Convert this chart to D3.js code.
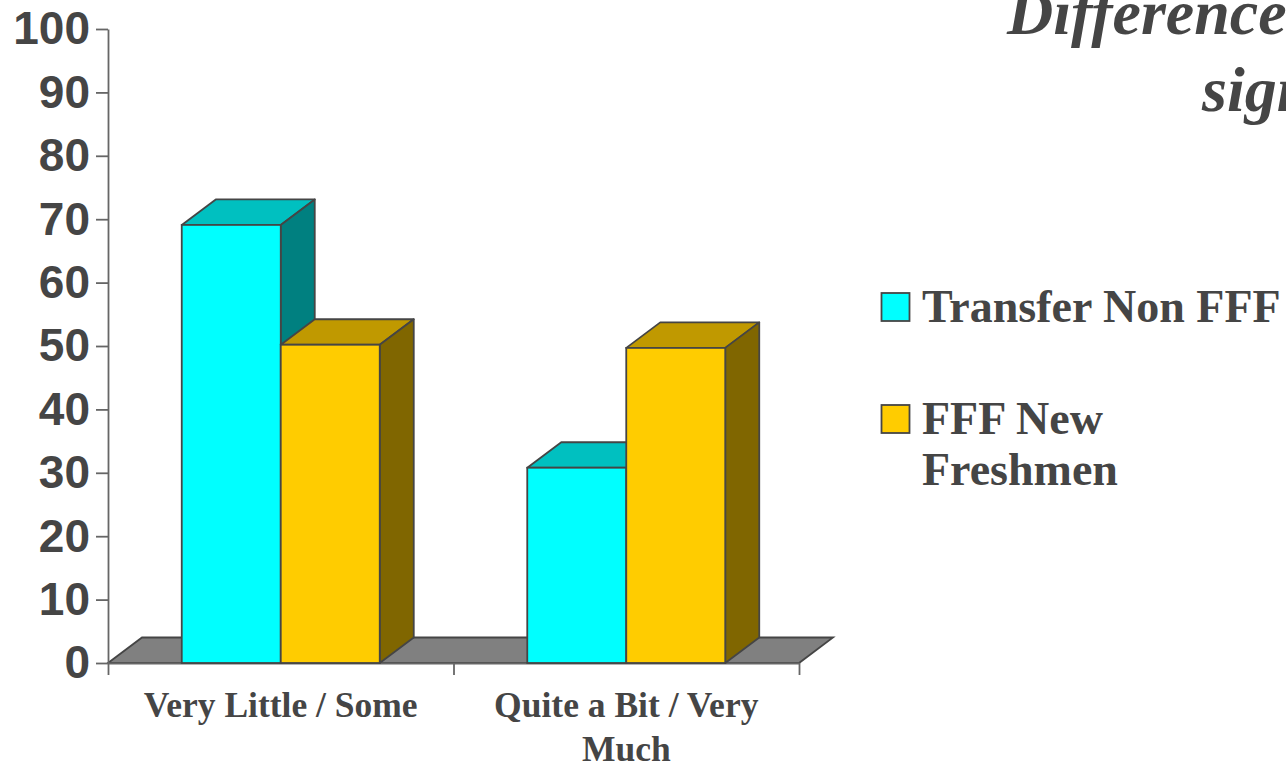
<!DOCTYPE html>
<html><head><meta charset="utf-8">
<script src="https://cdn.jsdelivr.net/npm/d3@7"></script>
<style>html,body{margin:0;padding:0;background:#fff;overflow:hidden}svg{display:block}</style>
</head><body><svg id="c" width="1286" height="763"></svg>
<script>
const categories = ["Very Little / Some", "Quite a Bit / Very Much"];
const seriesNames = ["Transfer Non FFF", "FFF New Freshmen"];
const transferValues = [69.1, 30.8];
const freshmenValues = [50.2, 49.7];
const yTicks = [0,10,20,30,40,50,60,70,80,90,100];
const titleLines = ["Difference", "sign"];
const legendLines = [["Transfer Non FFF"], ["FFF New", "Freshmen"]];
const frontColors = ["#00ffff", "#ffcc00"];
const topColors = ["#00c0c0", "#c09900"];
const sideColors = ["#008080", "#806600"];

const ink = "#454545", line = "#454545", axisInk = "#666666", sw = 1.8;
const plotL = 108, plotR = 799, plotB = 663, plotT = 29, depthX = 34, depthY = 25.5;
const svg = d3.select("#c");
const y = d3.scaleLinear().domain([0,100]).range([plotB, plotT]);
const x0 = d3.scaleBand().domain(categories).range([plotL, plotR]);
const x1 = d3.scaleBand().domain(seriesNames).range([0, x0.bandwidth()]).paddingInner(0).paddingOuter(0.745);
const seriesValues = [transferValues, freshmenValues];

// floor
svg.append("polygon")
  .attr("points", [[plotL,plotB],[plotL+depthX,plotB-depthY],[plotR+depthX,plotB-depthY],[plotR,plotB]].join(" "))
  .attr("fill","#808080").attr("stroke",line).attr("stroke-width",sw);

// axes
const yAxis = svg.append("g").attr("transform",`translate(${plotL},0)`)
  .call(d3.axisLeft(y).tickValues(yTicks).tickSize(12).tickSizeOuter(0).tickPadding(6));
yAxis.selectAll("path,line").attr("stroke",axisInk).attr("stroke-width",sw);
yAxis.selectAll("text").attr("font-family","'Liberation Sans'").attr("font-weight","bold")
  .attr("font-size",46).attr("fill",ink).attr("dy","0.325em");
const xEdges = d3.scaleLinear().domain([0,categories.length]).range([plotL,plotR]);
const xAxis = svg.append("g").attr("transform",`translate(0,${plotB})`)
  .call(d3.axisBottom(xEdges).tickValues(d3.range(categories.length+1)).tickFormat("").tickSize(12).tickSizeOuter(0));
xAxis.selectAll("path,line").attr("stroke",axisInk).attr("stroke-width",sw);

// bars
categories.forEach((c,ci)=>{
  seriesNames.forEach((s,si)=>{
    const v = seriesValues[si][ci];
    const xa = x0(c)+x1(s), xb = xa+x1.bandwidth(), yt = y(v), g = svg.append("g");
    g.append("polygon").attr("points",[[xa,yt],[xa+depthX,yt-depthY],[xb+depthX,yt-depthY],[xb,yt]].join(" "))
      .attr("fill",topColors[si]).attr("stroke",line).attr("stroke-width",sw).attr("stroke-linejoin","round");
    g.append("polygon").attr("points",[[xb,yt],[xb+depthX,yt-depthY],[xb+depthX,plotB-depthY],[xb,plotB]].join(" "))
      .attr("fill",sideColors[si]).attr("stroke",line).attr("stroke-width",sw).attr("stroke-linejoin","round");
    g.append("rect").attr("x",xa).attr("y",yt).attr("width",xb-xa).attr("height",plotB-yt)
      .attr("fill",frontColors[si]).attr("stroke",line).attr("stroke-width",sw);
  });
});

// category labels, wrapped to the band
const serif = "'Liberation Serif'";
categories.forEach(c=>{
  const t = svg.append("text").attr("text-anchor","middle").attr("font-family",serif)
    .attr("font-weight","bold").attr("font-size",35.5).attr("fill",ink);
  const cx = x0(c)+x0.bandwidth()/2;
  let lineNo=0, cur=[], ts=t.append("tspan").attr("x",cx).attr("y",717);
  c.split(" ").forEach(w=>{
    cur.push(w); ts.text(cur.join(" "));
    if(ts.node().getComputedTextLength()>x0.bandwidth()){
      cur.pop(); ts.text(cur.join(" ")); cur=[w]; lineNo++;
      ts=t.append("tspan").attr("x",cx).attr("y",717+lineNo*44).text(w);
    }
  });
});

// legend
const legendY=[292,404], legendBase=[[322],[434,485]];
legendLines.forEach((lines,i)=>{
  svg.append("rect").attr("x",881.5).attr("y",legendY[i]+1).attr("width",28).attr("height",28)
    .attr("fill",frontColors[i]).attr("stroke",line).attr("stroke-width",sw);
  lines.forEach((l,j)=>svg.append("text").attr("x",922).attr("y",legendBase[i][j])
    .attr("font-family",serif).attr("font-weight","bold").attr("font-size",46).attr("fill",ink).text(l));
});

// title
titleLines.forEach((l,i)=>svg.append("text").attr("x",i?1202:1007).attr("y",i?111:34)
  .attr("font-family",serif).attr("font-weight","bold").attr("font-style","italic")
  .attr("font-size",64).attr("fill",ink).text(l));
</script></body></html>
